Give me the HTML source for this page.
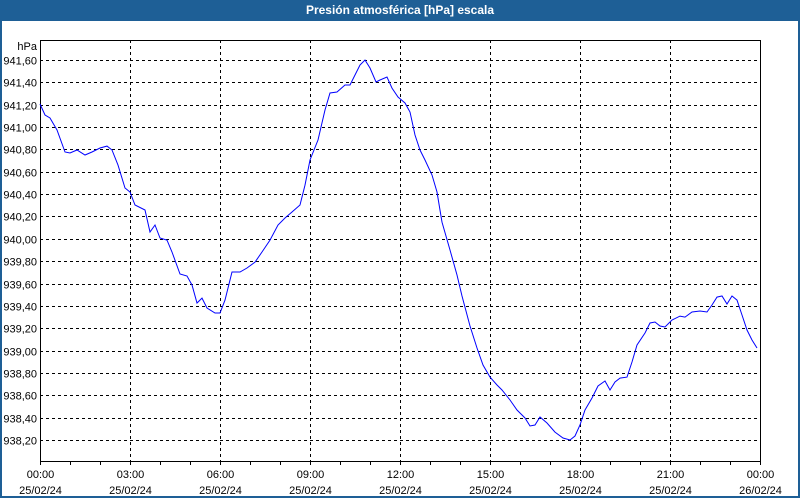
<!DOCTYPE html>
<html><head><meta charset="utf-8"><style>
body{margin:0;width:800px;height:500px;overflow:hidden;background:#fff;font-family:"Liberation Sans",sans-serif}
#wrap{position:absolute;left:0;top:0;width:796px;height:496px;border:2px solid #1e5f96;border-top:none;background:#fff}
#title{position:absolute;left:0;top:0;width:800px;height:21px;background:#1e5f96;color:#fff;font-weight:bold;font-size:12px;line-height:21px;text-align:center;font-family:"Liberation Sans",sans-serif}
svg{position:absolute;left:0;top:0;font-family:"Liberation Sans",sans-serif}
</style></head><body>
<div id="wrap"></div>
<div id="title">Presión atmosférica [hPa] escala</div>
<svg id="c" width="800" height="500"></svg>
<script>
const minutes=[0,10,20,34,50,60,74,90,104,120,134,144,156,170,180,190,210,220,230,240,254,264,280,294,304,314,324,334,350,360,370,384,400,414,430,444,460,476,490,504,520,530,540,556,570,580,594,610,620,630,640,650,660,672,680,694,704,716,730,740,750,760,770,784,794,804,820,834,844,860,874,886,900,914,924,940,954,970,980,990,1000,1014,1030,1046,1060,1070,1080,1090,1104,1116,1130,1140,1150,1160,1174,1184,1194,1210,1220,1230,1240,1250,1264,1280,1290,1304,1320,1334,1344,1354,1364,1374,1384,1394,1404,1414,1424,1434];
const pressure=[941.206,941.108,941.081,940.974,940.777,940.768,940.795,940.750,940.777,940.813,940.830,940.795,940.660,940.455,940.419,940.303,940.258,940.061,940.124,940.007,939.989,939.882,939.685,939.667,939.587,939.426,939.470,939.381,939.336,939.336,939.452,939.703,939.703,939.739,939.792,939.882,939.989,940.124,940.186,940.240,940.303,940.481,940.705,940.884,941.153,941.305,941.314,941.376,941.376,941.466,941.555,941.600,941.528,941.403,941.421,941.448,941.349,941.269,941.215,941.135,940.929,940.795,940.705,940.571,940.419,940.150,939.900,939.676,939.488,939.220,939.023,938.871,938.763,938.692,938.647,938.558,938.468,938.397,938.325,938.334,938.406,938.352,938.271,938.218,938.200,938.236,938.334,938.468,938.576,938.683,938.728,938.647,938.719,938.754,938.763,938.898,939.050,939.157,939.247,939.256,939.220,939.211,939.274,939.309,939.300,939.345,939.354,939.345,939.408,939.479,939.488,939.417,939.488,939.452,939.318,939.184,939.095,939.023];
const yTicks=[938.2,938.4,938.6,938.8,939.0,939.2,939.4,939.6,939.8,940.0,940.2,940.4,940.6,940.8,941.0,941.2,941.4,941.6];
const xTickTimes=["00:00","03:00","06:00","09:00","12:00","15:00","18:00","21:00","00:00"];
const xTickDates=["25/02/24","25/02/24","25/02/24","25/02/24","25/02/24","25/02/24","25/02/24","25/02/24","26/02/24"];
const L=40,R=760,T=40,B=461;
const xs=m=>L+(m/1440)*(R-L);
const ys=v=>60+(941.6-v)*(380/3.4);
const svg=document.getElementById('c');const NS='http://www.w3.org/2000/svg';
function mk(t,a,p){const e=document.createElementNS(NS,t);for(const k in a)e.setAttribute(k,a[k]);(p||svg).appendChild(e);return e;}
yTicks.forEach(v=>{const y=Math.round(ys(v))+0.5;
const g=mk('line',{x1:L,x2:R,y1:y,y2:y,stroke:'#000','stroke-dasharray':'3,3','stroke-width':1});


const t=mk('text',{x:37,y:y+4,'text-anchor':'end','font-size':11,fill:'#000'});t.textContent=v.toFixed(2).replace('.',',');

});
xTickTimes.forEach((s,i)=>{const x=Math.round(xs(i*180))+0.5;
if(i>0&&i<8){const g=mk('line',{x1:x,x2:x,y1:T,y2:B,stroke:'#000','stroke-dasharray':'3,3'});

}
const t=mk('text',{x:x,y:478,'text-anchor':'middle','font-size':11,fill:'#000'});t.textContent=s;


const d=mk('text',{x:x,y:494,'text-anchor':'middle','font-size':11,fill:'#000'});d.textContent=xTickDates[i];

});
for(let h=0;h<=24;h++){const x=Math.round(xs(h*60))+0.5;const tk=mk('line',{x1:x,x2:x,y1:B,y2:B+4,stroke:'#000'});

}
const ax=mk('rect',{x:L+0.5,y:T+0.5,width:R-L,height:B-T,fill:'none',stroke:'#000'});


const u=mk('text',{x:37,y:50,'text-anchor':'end','font-size':11,fill:'#000'});u.textContent='hPa';


const n=Math.min(minutes.length,pressure.length);let d='';
for(let i=0;i<n;i++)d+=(i?'L':'M')+xs(minutes[i]).toFixed(1)+','+ys(pressure[i]).toFixed(1);
const p=mk('path',{d:d,fill:'none',stroke:'#0000ff','stroke-width':1});


</script>
</body></html>
